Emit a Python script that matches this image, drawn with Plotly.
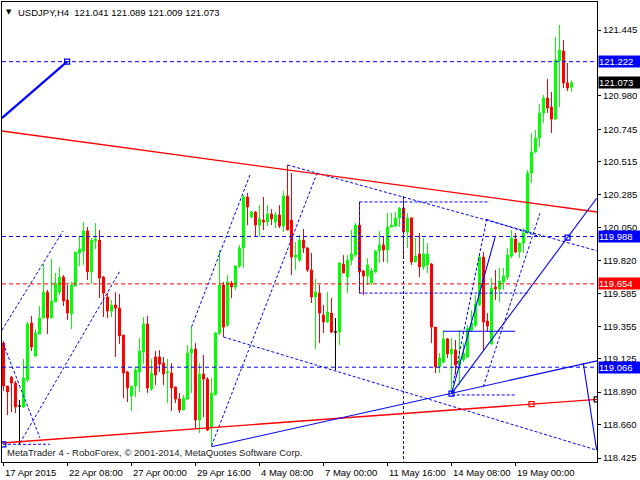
import plotly.graph_objects as go

symbol = "USDJPY,H4"
footer = "MetaTrader 4 - RoboForex, \u00a9 2001-2014, MetaQuotes Software Corp."
font_name = "Liberation Sans, Arial, sans-serif"

# H4 candles, bar 0 is the first bar on screen (17 Apr 2015)
opens = [119.236, 118.933, 118.996, 118.954, 118.792, 118.785, 118.975, 119.378, 119.145, 119.300,
         119.413, 119.596, 119.413, 119.526, 119.596, 119.702, 119.540, 119.441, 119.639, 119.872,
         119.886, 120.027, 119.738, 119.956, 119.963, 119.702, 119.561, 119.462, 119.505, 119.483,
         119.293, 119.032, 118.863, 118.933, 119.032, 119.173, 119.371, 118.912, 119.138, 119.138,
         119.095, 119.025, 119.025, 118.926, 118.841, 118.764, 118.841, 119.166, 119.194, 118.693,
         119.018, 118.982, 118.644, 118.870, 119.307, 119.646, 119.363, 119.660, 119.632, 119.780,
         119.907, 120.267, 120.126, 120.161, 120.069, 120.104, 120.090, 120.147, 120.090, 120.140,
         120.062, 120.274, 120.104, 119.843, 119.822, 119.963, 119.907, 119.752, 119.561, 119.589,
         119.434, 119.385, 119.448, 119.314, 119.314, 119.794, 119.702, 119.822, 119.857, 120.069,
         119.745, 119.709, 119.660, 119.738, 119.886, 119.928, 119.893, 120.055, 120.062, 120.119,
         120.189, 120.020, 120.119, 119.808, 119.865, 119.773, 119.787, 119.794, 119.349, 119.067,
         119.102, 119.265, 119.159, 119.187, 119.081, 119.117, 119.138, 119.328, 119.363, 119.505,
         119.843, 119.392, 119.229, 119.632, 119.618, 119.667, 119.702, 119.850, 119.970, 119.879,
         119.942, 120.013, 120.436, 120.584, 120.683, 120.860, 120.965, 120.902, 120.817, 121.227,
         121.297, 121.071, 121.041]
highs = [119.251, 118.933, 119.004, 118.968, 118.834, 119.124, 119.385, 119.427, 119.335, 119.498,
         119.794, 119.611, 119.829, 119.731, 119.773, 119.716, 119.646, 119.667, 119.879, 119.992,
         120.090, 120.055, 119.977, 120.083, 120.034, 119.709, 119.589, 119.540, 119.596, 119.582,
         119.293, 119.039, 118.933, 119.067, 119.272, 119.420, 119.427, 119.124, 119.180, 119.187,
         119.138, 119.124, 119.095, 118.926, 118.884, 118.870, 119.222, 119.349, 119.236, 119.095,
         119.152, 118.996, 118.989, 119.314, 119.893, 119.667, 119.716, 119.674, 119.787, 119.928,
         120.281, 120.295, 120.168, 120.168, 120.210, 120.267, 120.210, 120.182, 120.161, 120.210,
         120.309, 120.493, 120.436, 119.949, 119.999, 120.041, 119.914, 119.872, 119.688, 119.646,
         119.505, 119.596, 119.554, 119.413, 119.808, 119.857, 119.857, 120.034, 120.083, 120.232,
         119.752, 119.836, 119.766, 119.893, 120.027, 119.985, 120.154, 120.154, 120.161, 120.196,
         120.274, 120.154, 120.126, 119.977, 120.013, 119.977, 119.942, 119.801, 119.349, 119.166,
         119.328, 119.272, 119.272, 119.258, 119.328, 119.236, 119.363, 119.469, 119.575, 119.872,
         119.879, 119.448, 119.695, 119.752, 119.766, 119.766, 119.907, 120.034, 120.013, 119.949,
         120.048, 120.457, 120.718, 120.740, 120.923, 120.987, 121.100, 121.008, 121.396, 121.481,
         121.375, 121.212, 121.089]
lows = [118.898, 118.728, 118.750, 118.743, 118.517, 118.778, 118.961, 119.180, 119.138, 119.300,
        119.413, 119.300, 119.413, 119.526, 119.575, 119.498, 119.399, 119.335, 119.639, 119.780,
        119.787, 119.681, 119.653, 119.900, 119.554, 119.420, 119.413, 119.420, 119.138, 119.229,
        118.848, 118.820, 118.757, 118.855, 118.891, 119.088, 118.884, 118.898, 118.940, 119.032,
        118.940, 118.813, 118.757, 118.813, 118.743, 118.764, 118.834, 118.884, 118.637, 118.601,
        118.714, 118.615, 118.510, 118.870, 119.293, 119.279, 119.349, 119.554, 119.611, 119.766,
        119.766, 120.069, 120.119, 119.985, 119.985, 120.034, 120.062, 120.069, 120.048, 120.048,
        120.020, 120.034, 119.716, 119.752, 119.808, 119.872, 119.738, 119.519, 119.194, 119.236,
        119.307, 119.378, 119.307, 119.046, 119.222, 119.731, 119.589, 119.787, 119.843, 119.589,
        119.575, 119.646, 119.646, 119.731, 119.801, 119.808, 119.801, 120.055, 120.055, 120.055,
        119.843, 119.907, 119.787, 119.808, 119.702, 119.752, 119.731, 119.236, 119.025, 119.025,
        119.095, 119.131, 118.884, 119.011, 118.940, 119.102, 119.131, 119.314, 119.349, 119.498,
        119.187, 119.314, 119.229, 119.540, 119.526, 119.611, 119.681, 119.836, 119.872, 119.836,
        119.872, 120.006, 120.366, 120.577, 120.620, 120.789, 120.860, 120.718, 120.810, 120.902,
        121.036, 121.015, 121.009]
closes = [118.933, 118.891, 118.954, 118.785, 118.792, 118.989, 119.371, 119.208, 119.307, 119.413,
          119.596, 119.413, 119.533, 119.660, 119.702, 119.533, 119.448, 119.646, 119.879, 119.900,
          120.027, 119.738, 119.963, 119.970, 119.695, 119.589, 119.462, 119.505, 119.483, 119.286,
          119.025, 118.919, 118.933, 119.046, 119.180, 119.371, 118.919, 119.025, 119.011, 119.088,
          119.018, 119.032, 118.919, 118.841, 118.764, 118.848, 119.166, 119.194, 118.693, 119.018,
          118.982, 118.622, 118.884, 119.307, 119.646, 119.349, 119.667, 119.632, 119.780, 119.907,
          120.267, 120.196, 120.161, 120.069, 120.112, 120.090, 120.147, 120.112, 120.140, 120.062,
          120.274, 120.034, 119.843, 119.857, 119.963, 119.907, 119.752, 119.561, 119.596, 119.448,
          119.385, 119.455, 119.314, 119.314, 119.801, 119.731, 119.822, 119.865, 120.069, 119.738,
          119.709, 119.787, 119.745, 119.886, 119.928, 119.893, 120.055, 120.069, 120.119, 120.189,
          120.020, 120.119, 119.808, 119.850, 119.773, 119.865, 119.865, 119.349, 119.067, 119.131,
          119.265, 119.159, 119.194, 119.081, 119.117, 119.166, 119.342, 119.378, 119.512, 119.843,
          119.385, 119.356, 119.625, 119.618, 119.674, 119.709, 119.857, 119.977, 119.879, 119.942,
          120.013, 120.436, 120.584, 120.683, 120.860, 120.965, 120.895, 120.817, 121.234, 121.304,
          121.071, 121.036, 121.073]

time_labels = ["17 Apr 2015", "22 Apr 08:00", "27 Apr 00:00", "29 Apr 16:00", "4 May 08:00",
               "7 May 00:00", "11 May 16:00", "14 May 08:00", "19 May 00:00"]
time_label_bars = [0, 16, 32, 48, 64, 80, 96, 112, 128]

price_ticks = [121.445, 120.980, 120.745, 120.515, 120.285, 120.050, 119.820,
               119.585, 119.355, 119.125, 118.890, 118.660, 118.425]

# horizontal levels (price, colour)
levels = [121.222, 119.988, 119.654, 119.066]
level_colors = ["#0000ff", "#0000ff", "#ff0000", "#0000ff"]

# trend lines as (bar0, price0, bar1, price1)
thick_blue_lines = [(-0.4, 120.824, 15.9, 121.222)]
blue_lines = [(52, 118.505, 148.4, 119.111),
              (112, 118.88, 148.3, 120.258),
              (144.95, 119.093, 148.3, 118.481),
              (112, 118.88, 122.9, 119.982),
              (109.95, 119.32, 127.9, 119.32)]
red_lines = [(-0.4, 120.733, 148.4, 120.161),
             (-0.4, 118.531, 148.4, 118.839)]
blue_dash_lines = [(-0.375, 119.328, 14.875, 120.027),
                   (-0.125, 119.236, 9.125, 118.566),
                   (4.125, 118.531, 29.125, 119.745),
                   (-0.125, 118.522, 11.6, 118.522),
                   (47, 119.349, 61.6, 120.422),
                   (52, 118.51, 78.4, 120.436),
                   (55, 119.279, 148.3, 118.481),
                   (71, 120.493, 148.3, 119.888),
                   (89, 120.232, 89, 119.589),
                   (89, 120.232, 121.6, 120.232),
                   (89, 119.589, 131.6, 119.589),
                   (100, 120.274, 100, 118.40),
                   (112.4, 118.952, 120.8, 120.110),
                   (119.95, 118.928, 134.1, 120.152),
                   (120.8, 120.109, 134.1, 119.987),
                   (112.05, 118.870, 128.3, 118.870)]

# small square anchors
square_bars = [15.9, -0.05, 112, 141, 132, 148.3]
square_prices = [121.222, 118.522, 118.88, 119.98, 118.806, 118.839]
square_colors = ["#0000ff", "#0000ff", "#0000ff", "#0000ff", "#ff0000", "#000000"]


def segments(lines):
    xs, ys = [], []
    for b0, p0, b1, p1 in lines:
        xs += [b0, b1, None]
        ys += [p0, p1, None]
    return xs, ys


bars = list(range(len(opens)))

fig = go.Figure()

fig.add_trace(go.Candlestick(
    x=bars, open=opens, high=highs, low=lows, close=closes,
    increasing=dict(line=dict(color="#00ff00", width=1), fillcolor="#00ff00"),
    decreasing=dict(line=dict(color="#ff0000", width=1), fillcolor="#ff0000"),
    whiskerwidth=0, hoverinfo="skip"))

# doji bars are drawn black by MT4
dx, dy = [], []
for i in bars:
    if opens[i] == closes[i]:
        dx += [i, i, None, i - 0.4, i + 0.4, None]
        dy += [highs[i], lows[i], None, opens[i], opens[i], None]
fig.add_trace(go.Scatter(x=dx, y=dy, mode="lines", line=dict(color="black", width=1),
                         hoverinfo="skip"))

for lv, col in zip(levels, level_colors):
    fig.add_hline(y=lv, line=dict(color=col, width=1, dash="4px,3px"))

xs, ys = segments(blue_dash_lines)
fig.add_trace(go.Scatter(x=xs, y=ys, mode="lines",
                         line=dict(color="#0000ff", width=1, dash="3px,2px"), hoverinfo="skip"))
xs, ys = segments(red_lines)
fig.add_trace(go.Scatter(x=xs, y=ys, mode="lines",
                         line=dict(color="#ff0000", width=1.3), hoverinfo="skip"))
xs, ys = segments(blue_lines)
fig.add_trace(go.Scatter(x=xs, y=ys, mode="lines",
                         line=dict(color="#0000ff", width=1.1), hoverinfo="skip"))
xs, ys = segments(thick_blue_lines)
fig.add_trace(go.Scatter(x=xs, y=ys, mode="lines",
                         line=dict(color="#0000ff", width=2.2), hoverinfo="skip"))

fig.add_trace(go.Scatter(x=square_bars, y=square_prices, mode="markers",
                         marker=dict(symbol="square-open", size=5, color=square_colors,
                                     line=dict(width=1.2, color=square_colors)),
                         hoverinfo="skip"))

# price boxes on the right scale
box_values = levels + [closes[-1]]
box_colors = level_colors + ["#000000"]
for val, col in zip(box_values, box_colors):
    fig.add_annotation(x=1, xref="paper", xanchor="left", xshift=1, y=val, yref="y",
                       yanchor="middle", text=f"{val:.3f}", showarrow=False,
                       bgcolor=col, width=41, height=11, borderpad=0, align="left",
                       font=dict(family=font_name, size=9.5, color="white"))

# time labels start at their bar, MT4 style
for b, t in zip(time_label_bars, time_labels):
    fig.add_annotation(x=b, xref="x", xanchor="left", xshift=-1, y=0, yref="paper",
                       yanchor="top", yshift=-3, text=t, showarrow=False,
                       font=dict(family=font_name, size=9.5, color="black"))

title_text = f"{symbol}  {opens[-1]:.3f} {highs[-1]:.3f} {lows[-1]:.3f} {closes[-1]:.3f}"
fig.add_annotation(x=0, xref="paper", xanchor="left", xshift=2, y=1, yref="paper",
                   yanchor="top", yshift=-4, text="\u25bc", showarrow=False,
                   font=dict(family="DejaVu Sans", size=7, color="black"))
fig.add_annotation(x=0, xref="paper", xanchor="left", xshift=14, y=1, yref="paper",
                   yanchor="top", yshift=-3, text=title_text, showarrow=False,
                   font=dict(family=font_name, size=9.5, color="black"))
fig.add_annotation(x=0, xref="paper", xanchor="left", xshift=3, y=0, yref="paper",
                   yanchor="bottom", yshift=2, text=footer, showarrow=False,
                   font=dict(family=font_name, size=9.5, color="#222222"))

fig.update_layout(
    width=640, height=480,
    margin=dict(l=2, r=43, t=2, b=18),
    plot_bgcolor="white", paper_bgcolor="white",
    showlegend=False,
    font=dict(family=font_name, size=9.5, color="black"),
)
fig.update_xaxes(range=[-0.375, 148.375], rangeslider_visible=False,
                 showgrid=False, zeroline=False, showline=True, mirror=True,
                 linecolor="black", linewidth=1,
                 tickvals=time_label_bars, ticks="outside", ticklen=3,
                 tickcolor="black", showticklabels=False)
fig.update_yaxes(range=[118.397, 121.643], side="right",
                 showgrid=False, zeroline=False, showline=True, mirror=True,
                 linecolor="black", linewidth=1,
                 tickvals=price_ticks, ticktext=[f"{v:.3f}" for v in price_ticks],
                 ticks="outside", ticklen=3, tickcolor="black",
                 tickfont=dict(family=font_name, size=9.5, color="black"))

# the page body has a default 8px margin; drop it so the chart sits at 0,0
fig.write_html("out.html", config={"displayModeBar": False},
               post_script="document.body.style.margin='0';")
